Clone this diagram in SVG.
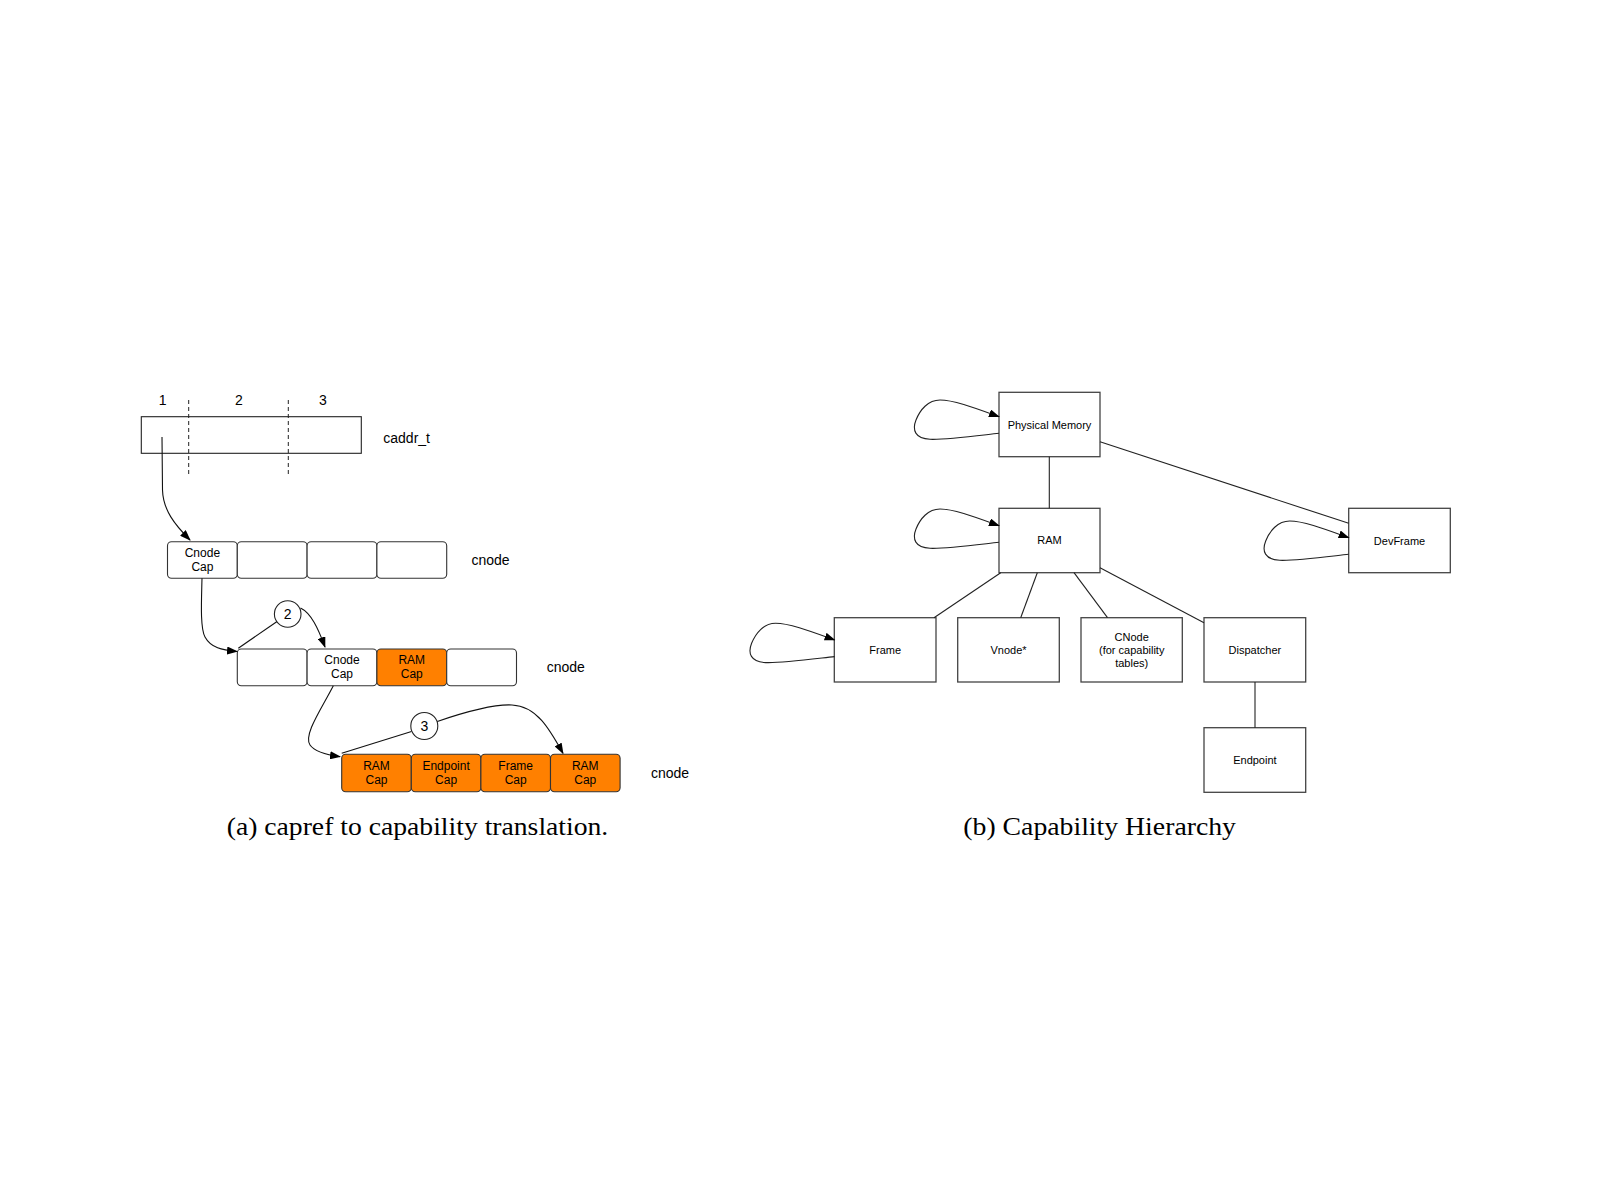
<svg xmlns="http://www.w3.org/2000/svg" width="1600" height="1200" viewBox="0 0 1600 1200">
<defs>
<marker id="ah" markerWidth="11" markerHeight="8" refX="10" refY="4" orient="auto" markerUnits="userSpaceOnUse">
<path d="M0,0 L11,4 L0,8 z" fill="#000"/>
</marker>
<style>
.cell{fill:#fff;stroke:#333;stroke-width:1.1}
.org{fill:#ff8000;stroke:#333;stroke-width:1.1}
.box{fill:#fff;stroke:#444;stroke-width:1.3}
.t12{font-family:"Liberation Sans",Arial,sans-serif;font-size:12px;fill:#000;text-anchor:middle}
.t14{font-family:"Liberation Sans",Arial,sans-serif;font-size:14px;fill:#000}
.t11{font-family:"Liberation Sans",Arial,sans-serif;font-size:11px;fill:#000;text-anchor:middle}
.cap{font-family:"Liberation Serif","Times New Roman",serif;font-size:26px;fill:#000}
.ln{fill:none;stroke:#111;stroke-width:1.1}
.lb{fill:none;stroke:#222;stroke-width:1.1}
</style>
</defs>
<rect width="1600" height="1200" fill="#fff"/>

<!-- (a) capref to capability translation -->
<g id="caddr">
<rect x="141.3" y="416.7" width="220" height="36.6" fill="#fff" stroke="#222" stroke-width="1.1"/>
<line x1="188.7" y1="400" x2="188.7" y2="474" stroke="#222" stroke-width="1" stroke-dasharray="4,3"/>
<line x1="288.3" y1="400" x2="288.3" y2="474" stroke="#222" stroke-width="1" stroke-dasharray="4,3"/>
<text class="t14" x="162.7" y="405" text-anchor="middle">1</text>
<text class="t14" x="239" y="405" text-anchor="middle">2</text>
<text class="t14" x="323" y="405" text-anchor="middle">3</text>
<text class="t14" x="383.3" y="442.7">caddr_t</text>
</g>

<g id="cnode1">
<rect class="cell" x="167.5" y="541.7" width="69.8" height="36.6" rx="4"/>
<rect class="cell" x="237.3" y="541.7" width="69.8" height="36.6" rx="4"/>
<rect class="cell" x="307.1" y="541.7" width="69.8" height="36.6" rx="4"/>
<rect class="cell" x="376.9" y="541.7" width="69.8" height="36.6" rx="4"/>
<text class="t12" x="202.4" y="557">Cnode</text>
<text class="t12" x="202.4" y="571">Cap</text>
<text class="t14" x="471.4" y="565">cnode</text>
</g>

<g id="cnode2">
<rect class="cell" x="237.3" y="649" width="69.8" height="36.7" rx="4"/>
<rect class="cell" x="307.1" y="649" width="69.8" height="36.7" rx="4"/>
<rect class="org" x="376.9" y="649" width="69.8" height="36.7" rx="4"/>
<rect class="cell" x="446.7" y="649" width="69.8" height="36.7" rx="4"/>
<text class="t12" x="342" y="664.3">Cnode</text>
<text class="t12" x="342" y="678">Cap</text>
<text class="t12" x="411.8" y="664.3">RAM</text>
<text class="t12" x="411.8" y="678">Cap</text>
<text class="t14" x="546.7" y="672">cnode</text>
</g>

<g id="cnode3">
<rect class="org" x="341.7" y="754.3" width="69.6" height="37.4" rx="4"/>
<rect class="org" x="411.3" y="754.3" width="69.6" height="37.4" rx="4"/>
<rect class="org" x="480.9" y="754.3" width="69.6" height="37.4" rx="4"/>
<rect class="org" x="550.5" y="754.3" width="69.6" height="37.4" rx="4"/>
<text class="t12" x="376.5" y="770">RAM</text>
<text class="t12" x="376.5" y="784">Cap</text>
<text class="t12" x="446.1" y="770">Endpoint</text>
<text class="t12" x="446.1" y="784">Cap</text>
<text class="t12" x="515.7" y="770">Frame</text>
<text class="t12" x="515.7" y="784">Cap</text>
<text class="t12" x="585.3" y="770">RAM</text>
<text class="t12" x="585.3" y="784">Cap</text>
<text class="t14" x="651" y="778">cnode</text>
</g>

<g id="step2">
<circle cx="287.7" cy="614" r="13.3" fill="#fff" stroke="#222" stroke-width="1.1"/>
<text class="t14" x="287.7" y="619" text-anchor="middle">2</text>
</g>
<g id="step3">
<circle cx="424.3" cy="726" r="13.5" fill="#fff" stroke="#222" stroke-width="1.1"/>
<text class="t14" x="424.3" y="731" text-anchor="middle">3</text>
</g>

<g id="connectors-a">
<path class="ln" d="M162,437 L162.5,490 C163,510 175,525 190,540" marker-end="url(#ah)"/>
<path class="ln" d="M202,578.3 C201.5,600 200,628 205,637 C211,648 222,650 237,651.5" marker-end="url(#ah)"/>
<line class="ln" x1="238.3" y1="648.3" x2="276.7" y2="621.7"/>
<path class="ln" d="M300.5,608 C311,613 318,628 325,647" marker-end="url(#ah)"/>
<path class="ln" d="M333.3,685.7 C322,708 303,735 310,745 C315,752 328,755 340,756.7" marker-end="url(#ah)"/>
<line class="ln" x1="341.7" y1="753.3" x2="411.5" y2="731.5"/>
<path class="ln" d="M437.3,721.5 C465,712 493,704 512,705 C537,706 550,730 563,753.3" marker-end="url(#ah)"/>
</g>

<!-- (b) Capability Hierarchy -->
<g id="physmem">
<rect class="box" x="999" y="392.3" width="101" height="64.4"/>
<text class="t11" x="1049.5" y="428.5">Physical Memory</text>
</g>
<g id="ram">
<rect class="box" x="999" y="508.3" width="101" height="64.4"/>
<text class="t11" x="1049.5" y="544.3">RAM</text>
</g>
<g id="devframe">
<rect class="box" x="1348.7" y="508.3" width="101.6" height="64.4"/>
<text class="t11" x="1399.5" y="544.5">DevFrame</text>
</g>
<g id="frame">
<rect class="box" x="834.3" y="617.7" width="101.7" height="64.3"/>
<text class="t11" x="885.2" y="654">Frame</text>
</g>
<g id="vnode">
<rect class="box" x="957.7" y="617.7" width="101.6" height="64.3"/>
<text class="t11" x="1008.5" y="654">Vnode*</text>
</g>
<g id="cnodeb">
<rect class="box" x="1081" y="617.7" width="101.3" height="64.3"/>
<text class="t11" x="1131.7" y="640.5">CNode</text>
<text class="t11" x="1131.7" y="654">(for capability</text>
<text class="t11" x="1131.7" y="667">tables)</text>
</g>
<g id="dispatcher">
<rect class="box" x="1204" y="617.7" width="101.7" height="64.3"/>
<text class="t11" x="1254.9" y="654">Dispatcher</text>
</g>
<g id="endpoint">
<rect class="box" x="1204" y="727.7" width="101.7" height="64.6"/>
<text class="t11" x="1254.9" y="764">Endpoint</text>
</g>

<g id="connectors-b">
<line class="lb" x1="1049.3" y1="456.7" x2="1049.3" y2="508.3"/>
<line class="lb" x1="1100" y1="441.7" x2="1348.7" y2="523.3"/>
<line class="lb" x1="1000.7" y1="572.7" x2="934" y2="617.7"/>
<line class="lb" x1="1037.3" y1="572.7" x2="1020.7" y2="617.7"/>
<line class="lb" x1="1074" y1="572.7" x2="1107.5" y2="617.7"/>
<line class="lb" x1="1100" y1="567.7" x2="1204" y2="622.7"/>
<line class="lb" x1="1255" y1="682" x2="1255" y2="727.7"/>
<path class="lb" d="M999,433.3 C975,436 945,440 930,439.3 C915,438.5 912,430 916,420 C920,410 928,400 940,400 C954,400 975,408 999,416.7" marker-end="url(#ah)"/>
<path class="lb" transform="translate(0,109)" d="M999,433.3 C975,436 945,440 930,439.3 C915,438.5 912,430 916,420 C920,410 928,400 940,400 C954,400 975,408 999,416.7" marker-end="url(#ah)"/>
<path class="lb" transform="translate(-164.4,223.3)" d="M999,433.3 C975,436 945,440 930,439.3 C915,438.5 912,430 916,420 C920,410 928,400 940,400 C954,400 975,408 999,416.7" marker-end="url(#ah)"/>
<path class="lb" transform="translate(349.7,121)" d="M999,433.3 C975,436 945,440 930,439.3 C915,438.5 912,430 916,420 C920,410 928,400 940,400 C954,400 975,408 999,416.7" marker-end="url(#ah)"/>
</g>

<g id="captions">
<text class="cap" x="226.7" y="835" textLength="381.6" lengthAdjust="spacingAndGlyphs">(a) capref to capability translation.</text>
<text class="cap" x="963.3" y="834.5" textLength="272.7" lengthAdjust="spacingAndGlyphs">(b) Capability Hierarchy</text>
</g>
</svg>
